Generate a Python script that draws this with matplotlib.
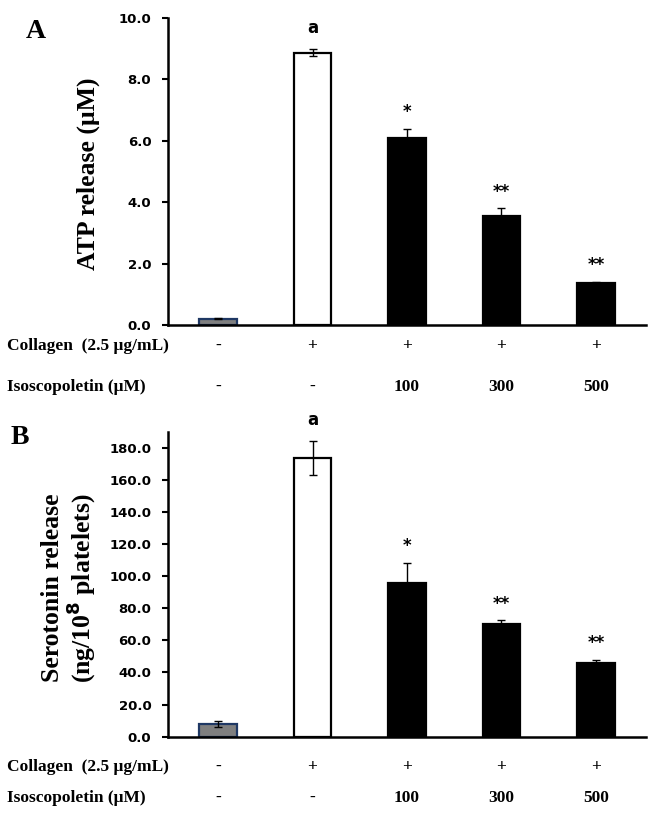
import matplotlib
matplotlib.use("Agg")
import matplotlib.pyplot as plt
import matplotlib.transforms as mtransforms

collagen = ["-", "+", "+", "+", "+"]
isoscopoletin = ["-", "-", "100", "300", "500"]

atp_values = [0.20, 8.87, 6.09, 3.56, 1.36]
atp_errors = [0.02, 0.11, 0.30, 0.24, 0.05]
atp_marks = ["", "a", "*", "**", "**"]
atp_ticks = [0, 2, 4, 6, 8, 10]

ser_values = [7.9, 173.8, 96.0, 70.0, 45.9]
ser_errors = [1.8, 10.7, 12.2, 2.4, 1.9]
ser_marks = ["", "a", "*", "**", "**"]
ser_ticks = [0, 20, 40, 60, 80, 100, 120, 140, 160, 180]

face_colors = ["#7f7f7f", "white", "black", "black", "black"]
edge_colors = ["#1f3864", "black", "black", "black", "black"]

W, H = 657, 818
fig = plt.figure(figsize=(W / 100, H / 100), dpi=100)

SERIF = ["Liberation Serif", "DejaVu Serif"]
SANS = ["DejaVu Sans"]


def fx(px):
    return px / W


def fy(py):
    return 1 - py / H


def panel(rect, values, errors, marks, ticks, ymax, row_y, letter, letter_xy, ylabel, ylabel_pos):
    ax = fig.add_axes(rect)
    x = list(range(len(values)))
    ax.bar(x, values, width=0.4, color=face_colors, edgecolor=edge_colors,
           linewidth=1.6, zorder=2)
    ax.errorbar(x, values, yerr=errors, fmt="none", ecolor="black",
                elinewidth=1.0, capsize=3, capthick=1.0, zorder=3)
    for xi, v, e, m in zip(x, values, errors, marks):
        if not m:
            continue
        if m == "a":
            ax.annotate(m, (xi, v + e), xytext=(0, 15), textcoords="offset points",
                        ha="center", va="center", fontsize=12, fontweight="bold",
                        family=SANS)
        else:
            ax.annotate(m, (xi, v + e), xytext=(0, 12), textcoords="offset points",
                        ha="center", va="center", fontsize=12, fontweight="bold",
                        family=SANS)
    ax.set_xlim(-0.53, 4.53)
    ax.set_ylim(0, ymax)
    ax.set_yticks(ticks)
    ax.set_yticklabels([f"{t:.1f}" for t in ticks], fontsize=9.5, fontweight="bold",
                       family=SANS)
    ax.set_xticks([])
    for s in ["top", "right"]:
        ax.spines[s].set_visible(False)
    for s in ["left", "bottom"]:
        ax.spines[s].set_linewidth(1.8)
    ax.tick_params(axis="y", direction="out", length=4, width=1.5, pad=8)
    ax.patch.set_alpha(0)

    # row labels
    trans = mtransforms.blended_transform_factory(ax.transData, fig.transFigure)
    fig.text(fx(7), fy(row_y[0]), "Collagen  (2.5 \u03bcg/mL)", ha="left", va="center",
             fontsize=12.5, fontweight="bold", family=SERIF)
    fig.text(fx(7), fy(row_y[1]), "Isoscopoletin (\u03bcM)", ha="left", va="center",
             fontsize=12.5, fontweight="bold", family=SERIF)
    for xi, c, i in zip(x, collagen, isoscopoletin):
        ax.text(xi, fy(row_y[0]), c, transform=trans, ha="center", va="center",
                fontsize=12.5, fontweight="bold", family=SERIF)
        ax.text(xi, fy(row_y[1]), i, transform=trans, ha="center", va="center",
                fontsize=12.5, fontweight="bold", family=SERIF)

    fig.text(fx(letter_xy[0]), fy(letter_xy[1]), letter, ha="center", va="center",
             fontsize=20, fontweight="bold", family=SERIF)
    ax.text(ylabel_pos[0], ylabel_pos[1], ylabel, transform=ax.transAxes,
            rotation=90, ha="center", va="center", fontsize=18.5,
            fontweight="bold", family=SERIF, linespacing=1.0)
    return ax


panel([fx(168), fy(325), fx(646) - fx(168), fy(18) - fy(325)],
      atp_values, atp_errors, atp_marks, atp_ticks, 10,
      (346, 387), "A", (36, 32), "ATP release (\u03bcM)", (-0.167, 0.493))

panel([fx(168), fy(736.7), fx(646) - fx(168), fy(431.7) - fy(736.7)],
      ser_values, ser_errors, ser_marks, ser_ticks, 190,
      (767, 798), "B", (20, 438),
      "Serotonin release\n(ng/10$^{\\mathbf{8}}$ platelets)", (-0.206, 0.4875))

fig.savefig("out.png", dpi=100)
